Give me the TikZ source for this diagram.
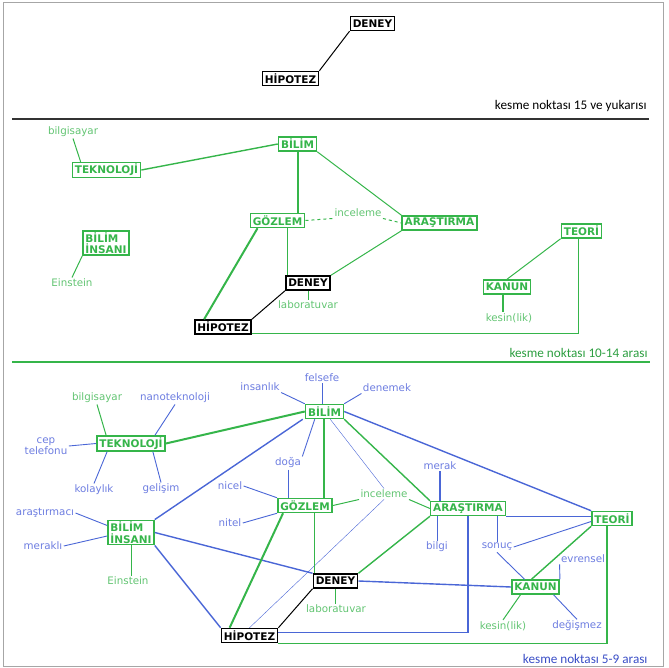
\documentclass[tikz,border=0pt]{standalone}
\usepackage{fontspec}
\setmainfont{DejaVu Sans}
\newfontfamily\calfont{Carlito}
\usetikzlibrary{positioning}
\definecolor{grn}{HTML}{35B54A}
\definecolor{lgrn}{HTML}{62C472}
\definecolor{dgrn}{HTML}{2C9E40}
\definecolor{blu}{HTML}{4A66D6}
\definecolor{lblu}{HTML}{6C7CE0}
\definecolor{dblu}{HTML}{3A4EC6}
\tikzset{
every picture/.style={
line width=1pt
}}

\begin{document}
\begin{tikzpicture}[x=1pt, y=-1pt,
gbox/.style = {rectangle, draw=grn, line width=1.5pt, fill=white, text=grn, font=\bfseries\fontsize{10.5}{11.5}\selectfont, inner xsep=2.5pt, inner ysep=1.5pt, minimum height=14pt, align=left},
kbox/.style = {gbox, draw=black, text=black},
blab/.style = {text=lblu, font=\fontsize{10.3}{11.5}\selectfont, inner sep=1pt, align=center},
glab/.style = {blab, text=lgrn},
kesme/.style = {font=\calfont\fontsize{13.2}{14}\selectfont, anchor=east, inner sep=0pt},
gthick/.style = {grn, line width=2pt},
gline/.style = {grn, line width=1.4pt},
gthin/.style = {grn, line width=1pt},
bline/.style = {blu, line width=1.4pt},
bthin/.style = {blu, line width=0.9pt},
bhair/.style = {blu, line width=0.4pt}]

\useasboundingbox (0,0) rectangle (669,668);
\draw[gray!70] (3,3) rectangle (663,666);

% kesme noktasi 15 ve yukarisi
\node[kbox] (den1) at (372.5,23.5) {DENEY};
\node[kbox] (hip1) at (290.5,78.5) {HİPOTEZ};
\draw[black] (hip1.north east) -- (den1.south west);
\node[kesme] (kes1) at (647,106) {kesme noktası 15 ve yukarısı};
\draw[black!80, line width=2pt] (12,119) -- (649,119);

% kesme noktasi 10-14
\node[glab] (bsy2) at (73,132) {bilgisayar};
\node[gbox] (tek2) at (106.5,170) {TEKNOLOJİ};
\node[gbox] (bil2) at (297.5,144) {BİLİM};
\node[gbox] (goz2) at (277.5,220.5) {GÖZLEM};
\node[glab] (inc2) at (358,213) {inceleme};
\node[gbox] (ara2) at (439.5,223) {ARAŞTIRMA};
\node[kbox] (den2) at (308,283) {DENEY};
\node[glab] (lab2) at (308,305) {laboratuvar};
\node[kbox] (hip2) at (223,327) {HİPOTEZ};
\node[gbox] (teo2) at (581.5,231) {TEORİ};
\node[gbox] (kan2) at (507,287) {KANUN};
\node[glab] (kes2) at (509,318) {kesin(lik)};
\node[gbox] (bin2) at (106,243) {BİLİM\\İNSANI};
\node[glab] (ein2) at (72,283) {Einstein};

\draw[gthin] (bsy2.south) -- ([xshift=9pt]tek2.north west);
\draw[gline] (tek2.east) -- (bil2.west);
\draw[gthick] (bil2.south) -- (bil2.south |- goz2.north);
\draw[gthin] (bil2.south east) -- (ara2.north west);
\draw[gthin, dashed] (goz2.east) -- (inc2.south west);
\draw[gthin, dashed] (inc2.south east) -- (ara2.west);
\draw[gthin] ([xshift=2pt]den2.north west) -- ([xshift=2pt]den2.north west |- goz2.south);
\draw[gthin] (den2.south) -- (den2.south |- lab2.north);
\draw[gthin] (den2.north east) -- (ara2.south west);
\draw[gthick] ([xshift=8pt]goz2.south west) -- ([xshift=10pt]hip2.north west);
\draw[black] (hip2.north east) -- (den2.south west);
\draw[gthin] ([yshift=1pt]hip2.south east) -| ([xshift=-3pt]teo2.south);
\draw[gthin] (kan2.north) -- (teo2.south west);
\draw[gthick] ([xshift=-4pt]kan2.south) -- ([xshift=-4pt]kan2.south |- kes2.north);
\draw[gthin] (bin2.south west) -- (ein2.north);

\node[kesme, text=dgrn] (kes2t) at (648,353) {kesme noktası 10-14 arası};
\draw[grn, line width=2pt] (12,362) -- (650,362);

% kesme noktasi 5-9
\node[blab] (fel3) at (322,378) {felsefe};
\node[blab] (ins3) at (260,387) {insanlık};
\node[blab] (dnm3) at (387,388) {denemek};
\node[gbox] (bil3) at (324.5,411.5) {BİLİM};
\node[glab] (bsy3) at (97,398) {bilgisayar};
\node[blab] (nan3) at (175,398) {nanoteknoloji};
\node[gbox] (tek3) at (131,443.5) {TEKNOLOJİ};
\node[blab] (cep3) at (46,446) {cep\\telefonu};
\node[blab] (kol3) at (94,490) {kolaylık};
\node[blab] (gel3) at (161,489) {gelişim};
\node[blab] (dog3) at (288,463) {doğa};
\node[blab] (nic3) at (230,486) {nicel};
\node[blab] (nit3) at (230,523) {nitel};
\node[gbox] (goz3) at (305,505.5) {GÖZLEM};
\node[glab] (inc3) at (384,494) {inceleme};
\node[gbox] (ara3) at (468,508.5) {ARAŞTIRMA};
\node[blab] (mer3) at (440,466) {merak};
\node[blab] (blg3) at (437,547) {bilgi};
\node[blab] (son3) at (497,547) {sonuç};
\node[gbox] (teo3) at (612,518.5) {TEORİ};
\node[blab] (evr3) at (583,559) {evrensel};
\node[gbox] (kan3) at (535.5,587) {KANUN};
\node[glab] (kes3) at (503,626) {kesin(lik)};
\node[blab] (deg3) at (577,626) {değişmez};
\node[gbox] (bin3) at (131,532.5) {BİLİM\\İNSANI};
\node[blab] (ars3) at (45,513) {araştırmacı};
\node[blab] (mkl3) at (43,546) {meraklı};
\node[glab] (ein3) at (128,581) {Einstein};
\node[kbox] (den3) at (335.5,581) {DENEY};
\node[glab] (lab3) at (336,609) {laboratuvar};
\node[kbox] (hip3) at (249.5,635.5) {HİPOTEZ};

\draw[bthin] (fel3.south) -- (fel3.south |- bil3.north);
\draw[bthin] (ins3.south east) -- (bil3.north west);
\draw[bthin] (dnm3.south west) -- (bil3.north east);
\draw[gthin] (bsy3.south) -- ([xshift=10pt]tek3.north west);
\draw[bthin] (nan3.south) -- ([xshift=-11pt]tek3.north east);
\draw[bthin] (cep3.east) -- (tek3.west);
\draw[bthin] ([xshift=11pt]tek3.south west) -- (kol3.north);
\draw[bthin] ([xshift=-13pt]tek3.south east) -- (gel3.north);
\draw[gthick] (tek3.east) -- (bil3.west);
\draw[bthin] ([xshift=10pt]bil3.south west) -- (dog3.north east);
\draw[bthin] (dog3.south) -- (dog3.south |- goz3.north);
\draw[bthin] (nic3.east) -- (goz3.north west);
\draw[bthin] (nit3.east) -- (goz3.south west);
\draw[gthick] ([xshift=-1pt]bil3.south) -- ([xshift=-1pt]bil3.south |- goz3.north);
\draw[bhair] ([xshift=-14pt]bil3.south east) -- (inc3.north);
\draw[gline] (bil3.south east) -- (ara3.north west);
\draw[bline] (bil3.east) -- (teo3.north west);
\draw[bline] ([xshift=-2pt]bil3.south west) -- (bin3.north east);
\draw[gthin] (goz3.east) -- (inc3.south west);
\draw[gthin] (inc3.south east) -- (ara3.west);
\draw[bhair] (inc3.south) -- (hip3.north);
\draw[bline] (mer3.south) -- (mer3.south |- ara3.north);
\draw[bthin] (blg3.north) -- (blg3.north |- ara3.south);
\draw[bthin] (son3.north) -- (son3.north |- ara3.south);
\draw[bline] (ara3.south east) -- (ara3.south east -| teo3.west);
\draw[bthin] (son3.east) -- ([yshift=-3pt]teo3.west);
\draw[bthin] (son3.south) -- ([xshift=-11pt]kan3.north);
\draw[bthin] (evr3.south west) -- (kan3.north east);
\draw[gline] (teo3.south west) -- ([xshift=-4pt]kan3.north);
\draw[bline] (den3.east) -- (kan3.west);
\draw[gthin] (kes3.north) -- ([xshift=-15pt]kan3.south);
\draw[bthin] (deg3.north) -- ([xshift=18pt]kan3.south);
\draw[gline] ([xshift=-5pt]teo3.south) |- (hip3.south east);
\draw[bline] (ara3.south) |- ([yshift=3pt]hip3.east);
\draw[bthin] (ars3.east) -- ([yshift=7pt]bin3.west);
\draw[bthin] (mkl3.east) -- ([yshift=-3.5pt]bin3.west);
\draw[gthin] (bin3.south) -- (bin3.south |- ein3.north);
\draw[bline] (bin3.east) -- (den3.north west);
\draw[bline] (bin3.south east) -- (hip3.north west);
\draw[gthin] (den3.south) -- (den3.south |- lab3.north);
\draw[gthin] ([xshift=2pt]den3.north west) -- ([xshift=2pt]den3.north west |- goz3.south);
\draw[gthick] ([xshift=6pt]goz3.south west) -- ([xshift=9pt]hip3.north west);
\draw[gline] (ara3.south west) -- (den3.north east);
\draw[black] (hip3.north east) -- (den3.south west);

\node[kesme, text=dblu] (kes3t) at (648,659) {kesme noktası 5-9 arası};

\end{tikzpicture}
\end{document}
